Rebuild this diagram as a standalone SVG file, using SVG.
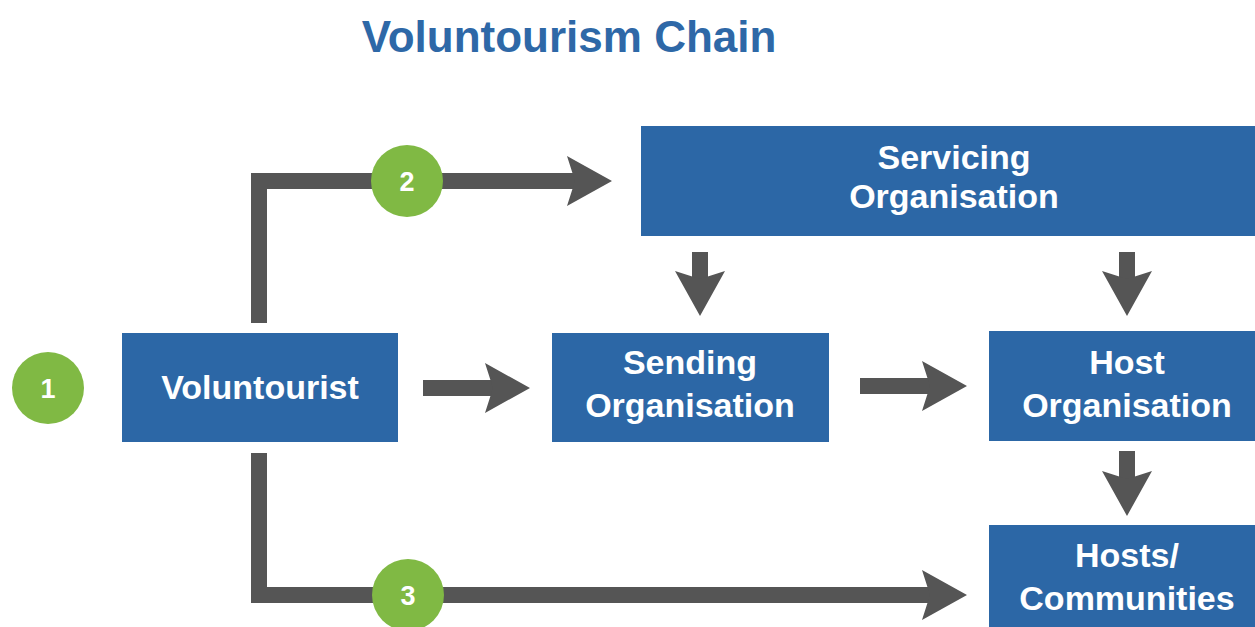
<svg xmlns="http://www.w3.org/2000/svg" width="1255" height="627" viewBox="0 0 1255 627">
<style>
.box{fill:#2c67a6}
.lbl{font-family:"Liberation Sans",Arial,sans-serif;font-weight:bold;font-size:34px;fill:#fff;text-anchor:middle}
.title{font-family:"Liberation Sans",Arial,sans-serif;font-weight:bold;font-size:44px;fill:#2e68a7;text-anchor:middle}
.num{font-family:"Liberation Sans",Arial,sans-serif;font-weight:bold;font-size:27px;fill:#fff;text-anchor:middle}
.badge{fill:#80b944}
.line{fill:none;stroke:#555555;stroke-width:16;stroke-linejoin:miter}
.head{fill:#555555}
</style>
<defs>
<path id="ah" d="M0,0 L-45,-25 L-37,0 L-45,25 Z"/>
</defs>
<rect width="1255" height="627" fill="#fff"/>
<text class="title" x="569" y="52">Voluntourism Chain</text>

<g id="connectors">
<path class="line" d="M259,323 V181 H580"/>
<use href="#ah" class="head" transform="translate(612,181)"/>
<path class="line" d="M259,453 V595 H935"/>
<use href="#ah" class="head" transform="translate(967,595)"/>
<path class="line" d="M423,388 H495"/>
<use href="#ah" class="head" transform="translate(530,388)"/>
<path class="line" d="M860,386 H932"/>
<use href="#ah" class="head" transform="translate(967,386)"/>
<path class="line" d="M700,252 V284"/>
<use href="#ah" class="head" transform="translate(700,316) rotate(90)"/>
<path class="line" d="M1127,252 V284"/>
<use href="#ah" class="head" transform="translate(1127,316) rotate(90)"/>
<path class="line" d="M1127,451 V484"/>
<use href="#ah" class="head" transform="translate(1127,516) rotate(90)"/>
</g>

<g id="servicing">
<rect class="box" x="641" y="126" width="620" height="110"/>
<text class="lbl" x="954" y="169">Servicing</text>
<text class="lbl" x="954" y="208">Organisation</text>
</g>
<g id="voluntourist">
<rect class="box" x="122" y="333" width="276" height="109"/>
<text class="lbl" x="260" y="399">Voluntourist</text>
</g>
<g id="sending">
<rect class="box" x="552" y="333" width="277" height="109"/>
<text class="lbl" x="690" y="374">Sending</text>
<text class="lbl" x="690" y="417">Organisation</text>
</g>
<g id="host">
<rect class="box" x="989" y="331" width="272" height="110"/>
<text class="lbl" x="1127" y="374">Host</text>
<text class="lbl" x="1127" y="417">Organisation</text>
</g>
<g id="hosts">
<rect class="box" x="989" y="525" width="272" height="110"/>
<text class="lbl" x="1127" y="567">Hosts/</text>
<text class="lbl" x="1127" y="610">Communities</text>
</g>
<g id="badge1">
<circle class="badge" cx="48" cy="388" r="36"/>
<text class="num" x="48" y="398">1</text>
</g>
<g id="badge2">
<circle class="badge" cx="407" cy="181" r="36"/>
<text class="num" x="407" y="191">2</text>
</g>
<g id="badge3">
<circle class="badge" cx="408" cy="595" r="36"/>
<text class="num" x="408" y="605">3</text>
</g>
</svg>
